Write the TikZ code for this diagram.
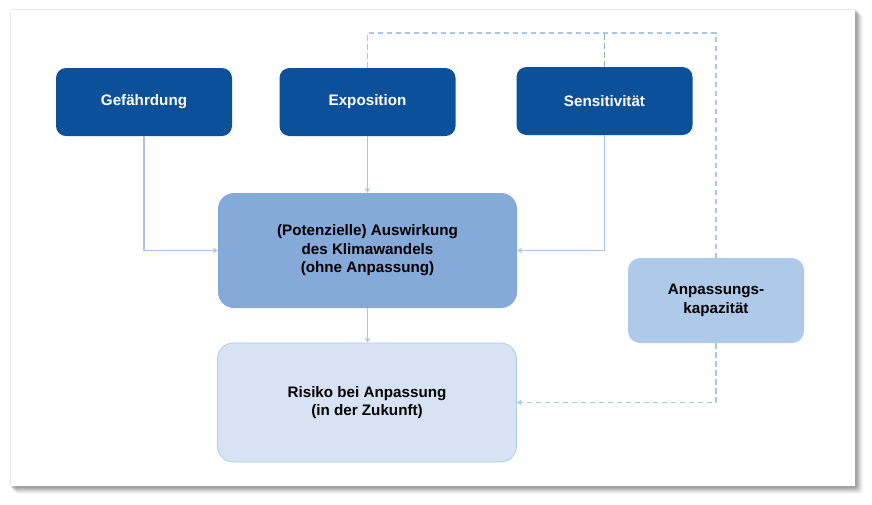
\documentclass[tikz,border=0pt]{standalone}
\usepackage{fontspec}
\setmainfont{Liberation Sans}
\usetikzlibrary{arrows.meta,calc}
\definecolor{darkblue}{HTML}{0B5098}
\definecolor{midblue}{HTML}{85A9D9}
\definecolor{capblue}{HTML}{AFC9E8}
\definecolor{paleblue}{HTML}{D7E3F4}
\definecolor{paleedge}{HTML}{AACFE0}
\definecolor{linkblue}{HTML}{A9C6EA}
\definecolor{greendash}{HTML}{8DB28F}
\tikzset{
  txt/.style={font=\fontsize{15.2}{18.5}\selectfont\bfseries, align=center, inner sep=0pt},
  topbox/.style={txt, rectangle, rounded corners=10pt, fill=darkblue, text=white, minimum width=176pt, minimum height=68pt},
  impactbox/.style={txt, rectangle, rounded corners=16pt, fill=midblue, text=black, minimum width=299pt, minimum height=115pt},
  capbox/.style={txt, rectangle, rounded corners=12pt, fill=capblue, text=black, minimum width=176pt, minimum height=85pt},
  riskbox/.style={txt, rectangle, rounded corners=16pt, fill=paleblue, draw=paleedge, line width=0.8pt, text=black, minimum width=299pt, minimum height=119pt},
  link/.style={draw=linkblue, line width=1.5pt, -{Stealth[length=5pt,width=5.5pt]}},
  dlink/.style={draw=linkblue, line width=1.6pt, dash pattern=on 5.5pt off 3.5pt},
}
\begin{document}
\begin{tikzpicture}[x=1pt,y=-1pt]
\useasboundingbox (0,0) rectangle (872,504);
\fill[white] (0,0) rectangle (872,504);
% frame shadow
\foreach \o/\a in {8/0.03,7/0.04,6/0.05,5/0.06,4/0.07,3/0.08,2/0.09}{
  \fill[black,opacity=\a,rounded corners=3pt] (11+\o-3,10+\o-3) rectangle (855+\o,486+\o);
}
\fill[white] (11,10) rectangle (855,486);
% nodes
\node[topbox] (gef) at (144,102) {Gefährdung};
\node[topbox] (expo) at (367.5,102) {Exposition};
\node[topbox] (sens) at (604.5,101) {Sensitivität};
\node[impactbox] (impact) at (367.5,250.5) {(Potenzielle) Auswirkung\\des Klimawandels\\(ohne Anpassung)};
\node[capbox] (anp) at (716,300.5) {Anpassungs-\\kapazität};
\node[riskbox] (risk) at (367,402.5) {Risiko bei Anpassung\\(in der Zukunft)};
\coordinate (tl) at (367.5,33);
% connectors
\draw[link] (gef.south) |- (impact.west);
\draw[link] (expo.south) -- (impact.north);
\draw[link] (sens.south) |- (impact.east);
\draw[link] (impact.south) -- (impact.south |- risk.north);
\draw[dlink] (expo.north) -- (tl) -| (anp.north);
\draw[dlink, draw=greendash] (sens.north) -- (sens.north |- tl);
\draw[dlink, -{Stealth[length=5pt,width=5.5pt]}] (anp.south) |- (risk.east);
\end{tikzpicture}
\end{document}
